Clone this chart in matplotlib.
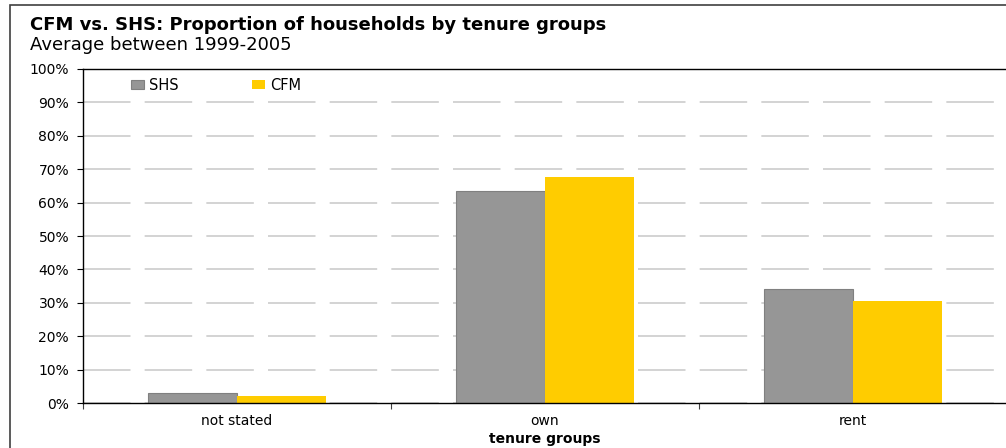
import numpy as np
import matplotlib
matplotlib.use("Agg")
from matplotlib import pyplot as plt
from matplotlib.patches import Rectangle
from matplotlib.ticker import PercentFormatter, FixedLocator

plt.rcParams['font.family'] = ['DejaVu Sans']

# data (percent of households)
groups = ["not stated", "own", "rent"]
shs = [2.9, 63.4, 34.1]
cfm = [2.2, 67.7, 30.5]

title = "CFM vs. SHS: Proportion of households by tenure groups"
subtitle = "Average between 1999-2005"

grey = "#969696"
yellow = "#FFCC00"

fig = plt.figure(figsize=(10.06, 4.48), dpi=100)

# outer chart border (right/bottom cut off like the reference)
fig.patches.append(Rectangle((10 / 1006, -0.05), 1.1, 1 - 5 / 448 + 0.05,
                             transform=fig.transFigure, fill=False,
                             edgecolor="#404040", linewidth=1.2))

fig.text(30 / 1006, 1 - 25 / 448, title, fontsize=13, fontweight="bold",
         va="center", ha="left")
fig.text(30 / 1006, 1 - 45 / 448, subtitle, fontsize=13, va="center", ha="left")

ax = fig.add_axes([83 / 1006, 1 - 403 / 448, 924 / 1006, (403 - 69) / 448])

x = np.arange(len(groups))
w = 0.29
ax.bar(x - w / 2, shs, w, color=grey, edgecolor="#808080", linewidth=0.8,
       label="SHS", zorder=2)
ax.bar(x + w / 2, cfm, w, color=yellow, linewidth=0, label="CFM", zorder=2)

ax.set_xlim(-0.5, len(groups) - 0.5)
ax.set_ylim(0, 100)
ax.set_yticks(np.arange(0, 101, 10))
ax.yaxis.set_major_formatter(PercentFormatter(decimals=0))
ax.tick_params(axis="y", length=4, width=0.8, pad=6, labelsize=10)

ax.set_xticks(x)
ax.set_xticklabels(groups)
ax.xaxis.set_minor_locator(FixedLocator(np.arange(-0.5, len(groups), 1)))
ax.tick_params(axis="x", which="major", length=0, pad=8, labelsize=10)
ax.tick_params(axis="x", which="minor", length=4, width=0.8, color="#404040")
ax.set_xlabel("tenure groups", fontsize=10, fontweight="bold", labelpad=3)

ax.set_axisbelow(True)
ax.yaxis.grid(True, color="#cccccc", linewidth=1.2, dashes=(28.5, 8.5))

for s in ["left", "bottom", "top"]:
    ax.spines[s].set_color("black")
    ax.spines[s].set_linewidth(1.0)
ax.spines["right"].set_visible(False)

ax.legend(loc="center left", bbox_to_anchor=(0.052, 0.952), ncol=2, frameon=False,
          fontsize=10.5, handlelength=0.9, handleheight=0.55, handletextpad=0.35,
          columnspacing=5.0, borderaxespad=0, borderpad=0)

fig.savefig("out.png", dpi=100)
